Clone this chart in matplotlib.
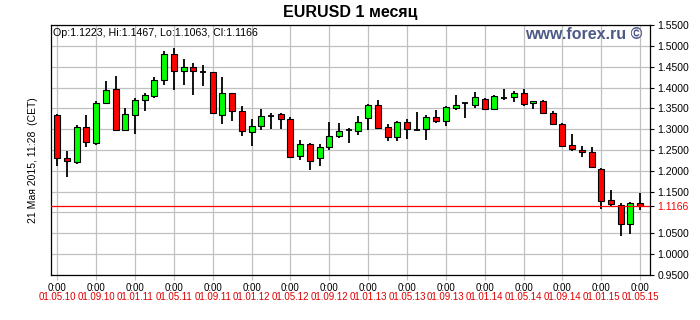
import matplotlib
matplotlib.use('Agg')
import matplotlib.pyplot as plt

# Monthly EURUSD candles, May 2010 .. May 2015
opens  = [1.3333, 1.2300, 1.2220, 1.3045, 1.2660, 1.3628, 1.3957, 1.2980, 1.3333, 1.3693,
          1.3789, 1.4180, 1.4797, 1.4389, 1.4485, 1.4370, 1.4365, 1.3333, 1.3860, 1.3430,
          1.2925, 1.3069, 1.3320, 1.3357, 1.3237, 1.2349, 1.2652, 1.2300, 1.2564, 1.2829,
          1.2970, 1.2964, 1.3260, 1.3573, 1.3045, 1.2805, 1.3165, 1.2980, 1.2996, 1.3292,
          1.3204, 1.3516, 1.3618, 1.3580, 1.3732, 1.3477, 1.3754, 1.3772, 1.3860, 1.3620,
          1.3684, 1.3380, 1.3117, 1.2612, 1.2500, 1.2445, 1.2036, 1.1292, 1.1188, 1.0717,
          1.1223]
highs  = [1.3360, 1.2476, 1.3093, 1.3340, 1.3676, 1.4156, 1.4276, 1.3500, 1.3740, 1.3868,
          1.4252, 1.4869, 1.4948, 1.4692, 1.4588, 1.4540, 1.4380, 1.4244, 1.3880, 1.3549,
          1.3237, 1.3477, 1.3380, 1.3380, 1.3285, 1.2748, 1.2660, 1.2636, 1.3164, 1.3141,
          1.3020, 1.3316, 1.3597, 1.3700, 1.3124, 1.3196, 1.3237, 1.3412, 1.3348, 1.3460,
          1.3556, 1.3828, 1.3625, 1.3884, 1.3740, 1.3820, 1.3964, 1.3916, 1.3972, 1.3684,
          1.3690, 1.3436, 1.3141, 1.2884, 1.2596, 1.2564, 1.2060, 1.1532, 1.1236, 1.1260,
          1.1467]
lows   = [1.2123, 1.1860, 1.2172, 1.2580, 1.2627, 1.3600, 1.2970, 1.2960, 1.2877, 1.3430,
          1.3748, 1.4053, 1.3948, 1.4068, 1.3828, 1.4044, 1.3357, 1.3131, 1.3204, 1.2844,
          1.2604, 1.2972, 1.2996, 1.2996, 1.2325, 1.2268, 1.2028, 1.2123, 1.2492, 1.2800,
          1.2660, 1.2860, 1.2980, 1.3012, 1.2716, 1.2716, 1.2772, 1.2956, 1.2740, 1.3156,
          1.3084, 1.3460, 1.3276, 1.3516, 1.3477, 1.3470, 1.3700, 1.3660, 1.3564, 1.3492,
          1.3357, 1.3110, 1.2564, 1.2468, 1.2340, 1.2080, 1.1092, 1.1164, 1.0444, 1.0492,
          1.1063]
closes = [1.2308, 1.2236, 1.3045, 1.2685, 1.3620, 1.3933, 1.2980, 1.3357, 1.3693, 1.3813,
          1.4173, 1.4797, 1.4389, 1.4485, 1.4389, 1.4362, 1.3380, 1.3860, 1.3430, 1.2948,
          1.3069, 1.3309, 1.3322, 1.3237, 1.2340, 1.2652, 1.2236, 1.2564, 1.2844, 1.2948,
          1.2974, 1.3165, 1.3580, 1.3028, 1.2805, 1.3172, 1.2996, 1.2982, 1.3292, 1.3204,
          1.3525, 1.3580, 1.3622, 1.3760, 1.3477, 1.3796, 1.3758, 1.3860, 1.3612, 1.3684,
          1.3380, 1.3124, 1.2604, 1.2516, 1.2452, 1.2085, 1.1268, 1.1196, 1.0717, 1.1220,
          1.1166]

date_labels = ['01.05.10', '01.09.10', '01.01.11', '01.05.11', '01.09.11', '01.01.12',
               '01.05.12', '01.09.12', '01.01.13', '01.05.13', '01.09.13', '01.01.14',
               '01.05.14', '01.09.14', '01.01.15', '01.05.15']
time_label = '0:00'
price_levels = [0.95, 1.00, 1.05, 1.10, 1.15, 1.20, 1.25, 1.30, 1.35, 1.40, 1.45, 1.50, 1.55]
hidden_levels = [1.10]
last_price = 1.1166
title = 'EURUSD 1 месяц'
info = 'Op:1.1223, Hi:1.1467, Lo:1.1063, Cl:1.1166'
brand = 'www.forex.ru ©'
stamp = '21 Мая 2015, 11:28  (CET)'

plt.rcParams['font.family'] = ['Liberation Sans', 'DejaVu Sans']

fig = plt.figure(figsize=(7.0, 3.2), dpi=100)
ax = fig.add_axes([51/700, 1-275/320, 599/700, 250/320])

n = len(opens)
xs = list(range(n))
tick_pos = list(range(0, n, 4))

# grid
for lv in price_levels:
    ax.axhline(lv, color='#c0c0c0', lw=0.9, zorder=0)
for tp in tick_pos:
    ax.axvline(tp, color='#c0c0c0', lw=0.9, zorder=0)

# wicks
ax.vlines(xs, lows, highs, color='black', lw=1.3, zorder=2)

# bodies
w = 0.62
for i in xs:
    o, c = opens[i], closes[i]
    if abs(c - o) < 0.0015:
        ax.hlines(o, i - w/2, i + w/2, color='black', lw=1.3, zorder=3)
    else:
        col = '#00ff00' if c > o else '#ff0000'
        ax.bar(i, abs(c - o), bottom=min(o, c), width=w, color=col,
               edgecolor='black', linewidth=0.8, zorder=3)

ax.axhline(last_price, color='#ff0000', lw=0.9, zorder=4)

ax.set_xlim(-0.65, 61.02)
ax.set_ylim(0.95, 1.55)

for s in ax.spines.values():
    s.set_color('black')
    s.set_linewidth(0.9)

ax.set_xticks(tick_pos)
ax.set_xticklabels([time_label] * len(tick_pos), fontsize=7)
ax.tick_params(axis='x', length=3.6, color='#c0c0c0', pad=2.0)

yt = [lv for lv in price_levels if lv not in hidden_levels] + [last_price]
ax.yaxis.tick_right()
ax.set_yticks(yt)
ax.set_yticklabels(['%.4f' % v for v in yt], fontsize=7.5)
ax.tick_params(axis='y', length=2.9, color='black', pad=2.5)
for lbl in ax.get_yticklabels():
    if lbl.get_text() == '%.4f' % last_price:
        lbl.set_color('#ff0000')

for tp, dl in zip(tick_pos, date_labels):
    ax.annotate(dl, xy=(tp, 0), xycoords=('data', 'axes fraction'),
                xytext=(0, -12.0), textcoords='offset points',
                ha='center', va='top', fontsize=7, color='#dd0000')

fig.text(350/700, 1-12/320, title, ha='center', va='center',
         fontsize=11.5, fontweight='bold')
ax.text(2/599, 1-3/250, info, transform=ax.transAxes, ha='left', va='top', fontsize=7.7)
ax.text(591/599, 1-2/250, brand, transform=ax.transAxes, ha='right', va='top',
        fontsize=11.5, fontweight='bold', color='#4d5a86')
fig.text(33/700, 1-160/320, stamp, rotation=90, ha='center', va='center', fontsize=7.5)

fig.savefig('out.png', dpi=100)
